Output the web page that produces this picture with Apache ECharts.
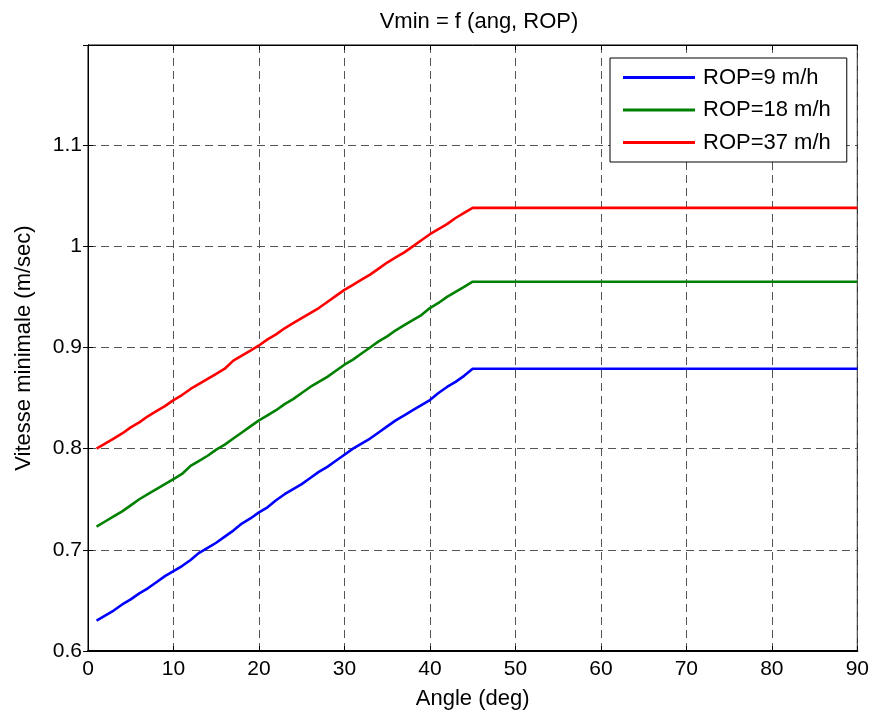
<!DOCTYPE html>
<html>
<head>
<meta charset="utf-8">
<script src="https://cdn.jsdelivr.net/npm/echarts@6/dist/echarts.min.js"></script>
<style>
  html, body { margin: 0; padding: 0; background: #fff; }
  #chart { width: 872px; height: 715px; }
</style>
</head>
<body>
<div id="chart"></div>
<script>
  // angles 1..45 deg, then flat to 90
  const angles = [1, 2, 3, 4, 5, 6, 7, 8, 9, 10, 11, 12, 13, 14, 15, 16, 17, 18, 19, 20, 21, 22, 23,
    24, 25, 26, 27, 28, 29, 30, 31, 32, 33, 34, 35, 36, 37, 38, 39, 40, 41, 42, 43, 44, 45, 90];

  const rop9 = [0.630, 0.635, 0.640, 0.646, 0.651, 0.657, 0.662, 0.668, 0.674, 0.679, 0.684, 0.690,
    0.697, 0.702, 0.707, 0.713, 0.719, 0.726, 0.731, 0.737, 0.742, 0.749, 0.755, 0.760, 0.765, 0.771,
    0.777, 0.782, 0.788, 0.794, 0.800, 0.805, 0.810, 0.816, 0.822, 0.828, 0.833, 0.838, 0.843, 0.848,
    0.855, 0.861, 0.866, 0.872, 0.879, 0.879];

  const rop18 = [0.723, 0.728, 0.733, 0.738, 0.744, 0.750, 0.755, 0.760, 0.765, 0.770, 0.775, 0.783,
    0.788, 0.793, 0.799, 0.804, 0.810, 0.816, 0.822, 0.828, 0.833, 0.838, 0.844, 0.849, 0.855, 0.861,
    0.866, 0.871, 0.877, 0.883, 0.888, 0.894, 0.900, 0.906, 0.911, 0.917, 0.922, 0.927, 0.932, 0.939,
    0.944, 0.950, 0.955, 0.960, 0.965, 0.965];

  const rop37 = [0.800, 0.805, 0.810, 0.815, 0.821, 0.826, 0.832, 0.837, 0.842, 0.848, 0.853, 0.859,
    0.864, 0.869, 0.874, 0.879, 0.887, 0.892, 0.897, 0.902, 0.908, 0.913, 0.919, 0.924, 0.929, 0.934,
    0.939, 0.945, 0.951, 0.957, 0.962, 0.967, 0.972, 0.978, 0.984, 0.989, 0.994, 1.000, 1.006, 1.012,
    1.017, 1.022, 1.028, 1.033, 1.038, 1.038];

  const seriesNames = ['ROP=9 m/h', 'ROP=18 m/h', 'ROP=37 m/h'];
  const seriesColors = ['#0000ff', '#008000', '#ff0000'];
  const seriesValues = [rop9, rop18, rop37];

  const font = 'Arial, "Liberation Sans", sans-serif';
  let myChart = echarts.init(document.getElementById('chart'));

  const gridLine = { show: true, lineStyle: { color: '#555', type: [8, 5], width: 1 } };
  const tickStyle = { show: true, inside: true, length: 5, lineStyle: { color: '#000' } };

  let option = {
    animation: false,
    backgroundColor: '#fff',
    title: {
      text: 'Vmin = f (ang, ROP)',
      left: 474, top: 6, textAlign: 'center',
      textStyle: { fontFamily: font, fontSize: 22, fontWeight: 'normal', color: '#000' }
    },
    legend: {
      orient: 'vertical',
      left: 610, top: 58,
      padding: [7, 16, 7, 13],
      itemGap: 7.5,
      icon: 'rect',
      itemWidth: 72, itemHeight: 3,
      backgroundColor: '#fff',
      borderColor: '#000', borderWidth: 1,
      textStyle: { fontFamily: font, fontSize: 22, color: '#000', lineHeight: 25, padding: [0, 0, 0, 3] },
      data: seriesNames
    },
    grid: { left: 88, right: 14, top: 45, bottom: 64, show: true, borderColor: '#000', borderWidth: 1 },
    xAxis: [{
      type: 'value', min: 0, max: 90, interval: 10,
      name: 'Angle (deg)', nameLocation: 'middle', nameGap: 37,
      nameTextStyle: { fontFamily: font, fontSize: 22, color: '#000' },
      axisLine: { show: true, lineStyle: { color: '#000', width: 2 } },
      axisTick: tickStyle,
      axisLabel: { fontFamily: font, fontSize: 21, color: '#000', margin: 8 },
      splitLine: gridLine
    }, {
      type: 'value', min: 0, max: 90, interval: 10, position: 'top',
      axisLine: { show: true, lineStyle: { color: '#000' } },
      axisTick: tickStyle, axisLabel: { show: false }, splitLine: { show: false }
    }],
    yAxis: [{
      type: 'value', min: 0.6, max: 1.199, interval: 0.1,
      name: 'Vitesse minimale (m/sec)', nameLocation: 'middle', nameGap: 53,
      nameTextStyle: { fontFamily: font, fontSize: 22, color: '#000' },
      axisLine: { show: true, lineStyle: { color: '#000' } },
      axisTick: tickStyle,
      axisLabel: { fontFamily: font, fontSize: 21, color: '#000', margin: 6, showMaxLabel: false,
        formatter: v => String(+v.toFixed(2)) },
      splitLine: gridLine
    }, {
      type: 'value', min: 0.6, max: 1.199, interval: 0.1, position: 'right',
      axisLine: { show: true, lineStyle: { color: '#000' } },
      axisTick: tickStyle, axisLabel: { show: false }, splitLine: { show: false }
    }],
    series: seriesNames.map((name, i) => ({
      name: name,
      type: 'line',
      showSymbol: false,
      symbol: 'none',
      color: seriesColors[i],
      lineStyle: { width: 2.6, color: seriesColors[i] },
      data: angles.map((a, j) => [a, seriesValues[i][j]])
    }))
  };

  myChart.setOption(option);
</script>
</body>
</html>
